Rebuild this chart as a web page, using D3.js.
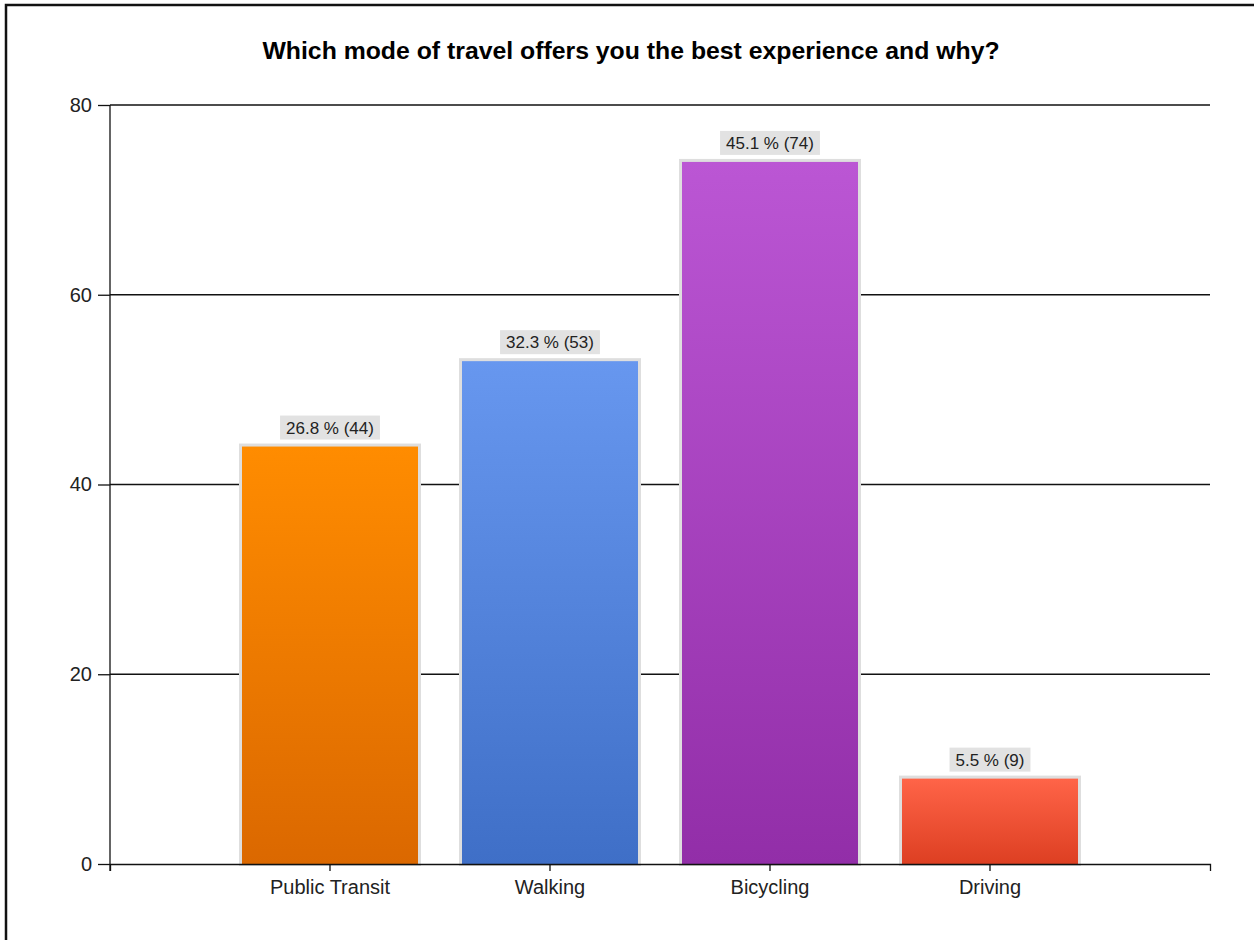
<!DOCTYPE html>
<html>
<head>
<meta charset="utf-8">
<script src="https://cdn.jsdelivr.net/npm/d3@7"></script>
<style>
  html, body { margin: 0; padding: 0; background: #fff; }
  svg { display: block; font-family: "Liberation Sans", Arial, sans-serif; }
</style>
</head>
<body>
<svg id="chart" width="1254" height="940"></svg>
<script>
// Survey answers: number of respondents per travel mode
const categories = ["Public Transit", "Walking", "Bicycling", "Driving"];
const counts = [44, 53, 74, 9];
const percents = ["26.8", "32.3", "45.1", "5.5"];
const yTicks = [0, 20, 40, 60, 80];
const colorTop = ["#ff8c00", "#6797ef", "#bb56d4", "#ff6448"];
const colorBottom = ["#db6800", "#3f6fc7", "#922ea8", "#dd3f22"];

const svg = d3.select("#chart");
const plotLeft = 110, plotRight = 1210, plotTop = 105, plotBottom = 864;

// outer frame
svg.append("rect")
  .attr("x", 6).attr("y", 5).attr("width", 1300).attr("height", 1000)
  .attr("fill", "none").attr("stroke", "#111").attr("stroke-width", 2.5);

svg.append("text")
  .attr("x", 631).attr("y", 59)
  .attr("text-anchor", "middle")
  .attr("font-size", 24.8).attr("font-weight", "bold").attr("fill", "#000")
  .text("Which mode of travel offers you the best experience and why?");

const x = d3.scaleBand()
  .domain(categories)
  .range([plotLeft, plotRight])
  .paddingInner(0.2)
  .paddingOuter(0.6);

const y = d3.scaleLinear().domain([0, 80]).range([plotBottom, plotTop]);

// gradients, one per bar
const defs = svg.append("defs");
categories.forEach((c, i) => {
  const g = defs.append("linearGradient")
    .attr("id", "grad" + i)
    .attr("x1", 0).attr("y1", 0).attr("x2", 0).attr("y2", 1);
  g.append("stop").attr("offset", "0%").attr("stop-color", colorTop[i]);
  g.append("stop").attr("offset", "100%").attr("stop-color", colorBottom[i]);
});

// horizontal grid lines
svg.append("g")
  .selectAll("line")
  .data(yTicks.filter(d => d > 0))
  .join("line")
  .attr("x1", plotLeft).attr("x2", plotRight)
  .attr("y1", d => y(d)).attr("y2", d => y(d))
  .attr("stroke", "#111").attr("stroke-width", 1.3);

const data = categories.map((c, i) => ({ c, v: counts[i], p: percents[i], i }));

// bars: light grey outline behind the gradient fill
const bars = svg.append("g");
bars.selectAll("rect.edge")
  .data(data)
  .join("rect")
  .attr("class", "edge")
  .attr("x", d => x(d.c) - 3)
  .attr("y", d => y(d.v) - 3)
  .attr("width", x.bandwidth() + 6)
  .attr("height", d => y(0) - y(d.v) + 5)
  .attr("fill", "#dedede");
bars.selectAll("rect.fill")
  .data(data)
  .join("rect")
  .attr("class", "fill")
  .attr("x", d => x(d.c))
  .attr("y", d => y(d.v))
  .attr("width", x.bandwidth())
  .attr("height", d => y(0) - y(d.v))
  .attr("fill", d => `url(#grad${d.i})`);

// value labels on grey boxes
const labels = svg.append("g")
  .selectAll("g")
  .data(data)
  .join("g")
  .attr("transform", d => `translate(${x(d.c) + x.bandwidth() / 2},${y(d.v) - 19})`);
labels.append("text")
  .attr("text-anchor", "middle")
  .attr("dy", "0.36em")
  .attr("font-size", 17)
  .attr("fill", "#222")
  .text(d => `${d.p} % (${d.v})`);
labels.each(function () {
  const g = d3.select(this);
  const b = g.select("text").node().getBBox();
  g.insert("rect", "text")
    .attr("x", b.x - 6).attr("y", -12)
    .attr("width", b.width + 12).attr("height", 24)
    .attr("fill", "#e2e2e2");
});

// axes
const yAxis = svg.append("g")
  .attr("transform", `translate(${plotLeft},0)`)
  .call(d3.axisLeft(y).tickValues(yTicks).tickSize(12).tickSizeOuter(0).tickPadding(6));
const xAxis = svg.append("g")
  .attr("transform", `translate(0,${plotBottom})`)
  .call(d3.axisBottom(x).tickSize(7).tickSizeOuter(7).tickPadding(9));

[yAxis, xAxis].forEach(a => {
  a.selectAll("path, line").attr("stroke", "#111").attr("stroke-width", 1.3);
  a.selectAll("text").attr("font-size", 20).attr("fill", "#222")
    .attr("font-family", "'Liberation Sans', Arial, sans-serif");
});
yAxis.select("path.domain").attr("d", `M0,${plotTop}V${plotBottom + 7}`);
</script>
</body>
</html>
